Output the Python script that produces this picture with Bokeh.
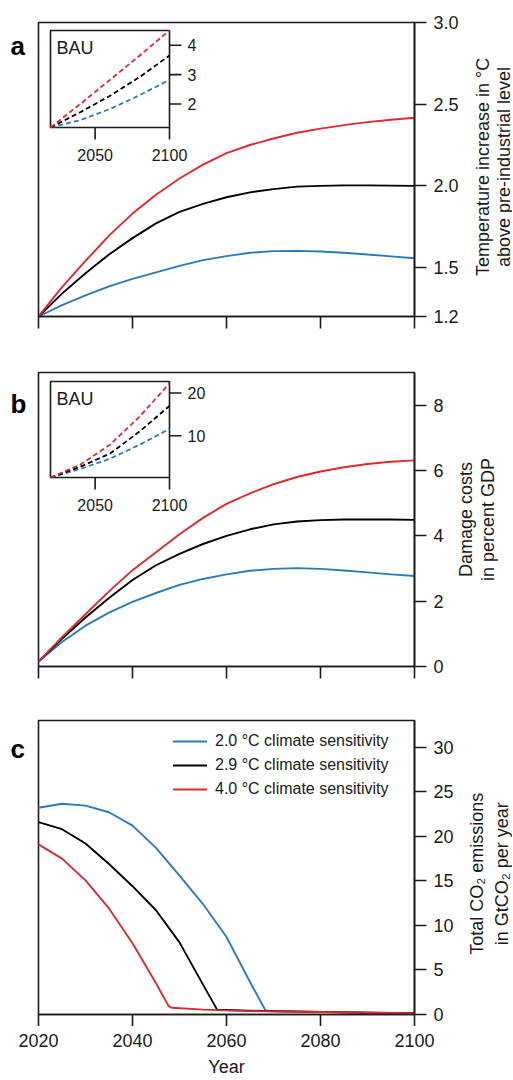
import math
from bokeh.plotting import figure
from bokeh.models import (Range1d, FixedTicker, PrintfTickFormatter, Label,
                          Legend, LegendItem, BoxAnnotation)
from bokeh.layouts import column, row
from bokeh.core.properties import value
from bokeh.embed import file_html
from bokeh.resources import INLINE

# ---------------- data ----------------
years = [2020, 2025, 2030, 2035, 2040, 2045, 2050, 2055, 2060,
         2065, 2070, 2075, 2080, 2085, 2090, 2095, 2100]
x_ticks = [2020, 2040, 2060, 2080, 2100]
x_labels = ["2020", "2040", "2060", "2080", "2100"]

# panel a: temperature increase (deg C)
temp_blue = [1.20, 1.27, 1.33, 1.385, 1.43, 1.47, 1.51, 1.545, 1.57,
             1.59, 1.60, 1.602, 1.598, 1.59, 1.58, 1.568, 1.557]
temp_black = [1.20, 1.34, 1.465, 1.58, 1.68, 1.77, 1.84, 1.89, 1.93,
              1.96, 1.98, 1.995, 2.0, 2.003, 2.003, 2.001, 2.0]
temp_red = [1.20, 1.38, 1.54, 1.695, 1.83, 1.945, 2.045, 2.13, 2.20,
            2.25, 2.29, 2.325, 2.35, 2.372, 2.39, 2.405, 2.417]
temp_ticks = [1.2, 1.5, 2.0, 2.5, 3.0]

# panel b: damage costs (% GDP)
dmg_blue = [0.15, 0.75, 1.25, 1.65, 1.98, 2.25, 2.5, 2.68, 2.82,
            2.93, 2.99, 3.01, 2.99, 2.94, 2.88, 2.82, 2.77]
dmg_black = [0.15, 0.85, 1.5, 2.1, 2.65, 3.1, 3.45, 3.75, 4.0,
             4.2, 4.35, 4.44, 4.48, 4.5, 4.5, 4.5, 4.49]
dmg_red = [0.15, 0.9, 1.6, 2.3, 2.95, 3.5, 4.05, 4.55, 4.98,
           5.3, 5.58, 5.8, 5.97, 6.1, 6.2, 6.27, 6.31]
dmg_ticks = [0, 2, 4, 6, 8]

# BAU insets
inset_years = [2020, 2040, 2060, 2080, 2100]
inset_xticks = [2050, 2100]
inset_xlabels = ["2050", "2100"]
bau_temp_blue = [1.2, 1.45, 1.83, 2.3, 2.82]
bau_temp_black = [1.2, 1.72, 2.28, 2.92, 3.65]
bau_temp_red = [1.2, 2.0, 2.82, 3.65, 4.5]
bau_temp_ticks = [2, 3, 4]
bau_dmg_blue = [0.2, 2.2, 4.6, 7.9, 11.6]
bau_dmg_black = [0.2, 2.7, 5.8, 11.0, 17.0]
bau_dmg_red = [0.2, 3.2, 7.9, 14.5, 22.3]
bau_dmg_ticks = [10, 20]

# panel c: total CO2 emissions (GtCO2 / yr)
em_years_blue = [2020, 2025, 2030, 2035, 2040, 2045, 2050, 2055, 2060,
                 2065, 2068.3, 2070, 2080, 2090, 2100]
em_blue = [23.2, 23.65, 23.45, 22.7, 21.2, 18.7, 15.6, 12.4, 8.7,
           3.65, 0.45, 0.38, 0.3, 0.2, 0.15]
em_years_black = [2020, 2025, 2030, 2035, 2040, 2045, 2050, 2055, 2058,
                  2060, 2070, 2080, 2090, 2100]
em_black = [21.6, 20.8, 19.2, 16.9, 14.4, 11.7, 8.1, 3.35, 0.55,
            0.5, 0.36, 0.3, 0.2, 0.15]
em_years_red = [2020, 2025, 2030, 2035, 2040, 2045, 2047.7, 2048.4,
                2055, 2065, 2080, 2090, 2100]
em_red = [19.1, 17.5, 15.05, 11.9, 8.0, 3.5, 0.94, 0.75,
          0.55, 0.38, 0.28, 0.2, 0.15]
em_ticks = [0, 5, 10, 15, 20, 25, 30]
legend_labels = ["2.0 °C climate sensitivity", "2.9 °C climate sensitivity",
                 "4.0 °C climate sensitivity"]

# ---------------- style ----------------
FONT = "Liberation Sans"
BLUE = "#2a7bba"
RED = "#de2a2e"
BLACK = "#000000"
AX = "#1a1a1a"
W, H = 376, 294
LW = 1.9
LEFT_W = 36          # width of the left strip holding the panel letter
TOTAL_W = 512


def style_axis(ax):
    ax.axis_line_color = AX
    ax.axis_line_width = 1.6
    ax.major_tick_line_color = AX
    ax.major_tick_line_width = 1.6
    ax.major_tick_out = 12
    ax.major_tick_in = 0
    ax.minor_tick_out = 0
    ax.minor_tick_in = 0
    ax.major_label_text_font = FONT
    ax.major_label_text_font_size = "18px"
    ax.major_label_text_color = AX
    ax.major_label_standoff = 7


def base_fig(y0, y1, yticks, top, bottom, right, fmt=None):
    p = figure(frame_width=W, frame_height=H,
               x_range=Range1d(2020, 2100), y_range=Range1d(y0, y1),
               y_axis_location="right", output_backend="svg",
               toolbar_location=None, min_border_left=2,
               min_border_right=right, min_border_top=top,
               min_border_bottom=bottom)
    p.grid.visible = False
    p.background_fill_color = "white"
    p.border_fill_color = "white"
    p.outline_line_color = AX
    p.outline_line_width = 1.6
    p.outline_line_alpha = 1.0
    style_axis(p.xaxis[0])
    style_axis(p.yaxis[0])
    p.xaxis.ticker = FixedTicker(ticks=x_ticks)
    # tick labels of the year axis are drawn only once, below panel c
    p.xaxis.major_label_text_font_size = "0px"
    p.xaxis.major_label_text_color = None
    p.xaxis.major_label_standoff = 0
    p.yaxis.ticker = FixedTicker(ticks=yticks)
    if fmt:
        p.yaxis.formatter = PrintfTickFormatter(format=fmt)
    return p


def side_fig(w, h):
    f = figure(width=w, height=h, x_range=Range1d(0, w),
               y_range=Range1d(0, h), min_border=0, toolbar_location=None,
               output_backend="svg", x_axis_type=None, y_axis_type=None)
    f.outline_line_color = None
    f.background_fill_color = "white"
    f.border_fill_color = "white"
    return f


def add_lines(p, xs_list, ys_list):
    rs = []
    for xs, ys, c in zip(xs_list, ys_list, (BLUE, BLACK, RED)):
        rs.append(p.line(xs, ys, line_color=c, line_width=LW,
                         line_join="round", line_cap="round"))
    return rs


def add_inset(p, y0, y1, yticks, blue, black, red, top_off, h_px,
              left_off=12, w_px=119):
    xa, xb = inset_years[0], inset_years[-1]
    sx = (xb - xa) / w_px
    sy = (y1 - y0) / h_px
    p.extra_x_ranges = {"ix": Range1d(xa - left_off * sx,
                                      xa + (W - left_off) * sx)}
    p.extra_y_ranges = {"iy": Range1d(y0 - (H - top_off - h_px) * sy,
                                      y1 + top_off * sy)}
    kw = dict(x_range_name="ix", y_range_name="iy")
    box = BoxAnnotation(left=xa, right=xb, bottom=y0, top=y1,
                        fill_color="white", fill_alpha=1.0,
                        line_color=AX, line_alpha=1.0, line_width=1.6,
                        level="underlay", **kw)
    p.add_layout(box)
    for ys, c in zip((blue, black, red), (BLUE, BLACK, RED)):
        p.line(inset_years, ys, line_color=c, line_width=1.8,
               line_dash="5 3", **kw)
    p.ray(x=[xb] * len(yticks), y=yticks, length=12, angle=0,
          length_units="screen", line_color=AX, line_width=1.6, **kw)
    p.text(x=[xb] * len(yticks), y=yticks, text=[str(t) for t in yticks],
           x_offset=18, text_align="left", text_baseline="middle",
           text_font=value(FONT), text_font_size="16px", text_color=AX, **kw)
    p.ray(x=inset_xticks, y=[y0] * len(inset_xticks), length=12,
          angle=-math.pi / 2, length_units="screen", line_color=AX,
          line_width=1.6, **kw)
    p.text(x=inset_xticks, y=[y0] * len(inset_xticks), text=inset_xlabels,
           y_offset=27, text_align="center", text_baseline="middle",
           text_font=value(FONT), text_font_size="16px", text_color=AX, **kw)
    p.text(x=[xa], y=[y1], text=["BAU"], x_offset=6, y_offset=7,
           text_align="left", text_baseline="top", text_font=value(FONT),
           text_font_size="18px", text_color=AX, **kw)


def assemble(main, letter, top, bottom, right, baseline_from_top,
             title_lines, title_xs):
    h = top + H + bottom
    left = side_fig(LEFT_W, h)
    left.add_layout(Label(x=10, y=h - baseline_from_top, text=letter,
                          text_font=FONT, text_font_size="26px",
                          text_font_style="bold", text_color=BLACK,
                          text_baseline="alphabetic", text_align="left"))
    rw = TOTAL_W - LEFT_W - 2 - W - right
    rf = side_fig(rw, h)
    yc = h - (top + H / 2)
    for t, x in zip(title_lines, title_xs):
        rf.add_layout(Label(x=x, y=yc, text=t, angle=math.pi / 2,
                            text_font=FONT, text_font_size="18px",
                            text_color=AX, text_align="center",
                            text_baseline="middle"))
    return row(left, main, rf, spacing=0)


# ---------------- panel a ----------------
TA, BA, RA = 22, 28, 50
pa = base_fig(1.2, 3.0, temp_ticks, TA, BA, RA, fmt="%.1f")
add_lines(pa, [years] * 3, [temp_blue, temp_black, temp_red])
add_inset(pa, 1.2, 4.5, bau_temp_ticks, bau_temp_blue, bau_temp_black,
          bau_temp_red, top_off=8, h_px=97)
row_a = assemble(pa, "a", TA, BA, RA, 27,
                 ["Temperature increase in °C", "above pre-industrial level"],
                 [18, 39])

# ---------------- panel b ----------------
TB, BB, RB = 28, 28, 42
pb = base_fig(0, 9, dmg_ticks, TB, BB, RB)
add_lines(pb, [years] * 3, [dmg_blue, dmg_black, dmg_red])
add_inset(pb, 0.2, 22.7, bau_dmg_ticks, bau_dmg_blue, bau_dmg_black,
          bau_dmg_red, top_off=9, h_px=96)
row_b = assemble(pb, "b", TB, BB, RB, 37.5,
                 ["Damage costs", "in percent GDP"], [9, 31])

# ---------------- panel c ----------------
TC, BC, RC = 26, 12, 52
pc = base_fig(0, 33, em_ticks, TC, BC, RC)
rs = add_lines(pc, [em_years_blue, em_years_black, em_years_red],
               [em_blue, em_black, em_red])
legend = Legend(items=[LegendItem(label=l, renderers=[r])
                       for l, r in zip(legend_labels, rs)],
                location=(135, H - 79), label_text_font=FONT,
                label_text_font_size="16px", label_text_color=AX,
                glyph_width=34, glyph_height=20, label_height=20,
                label_standoff=8, spacing=4, padding=0, margin=0,
                border_line_alpha=0, background_fill_alpha=0)
pc.add_layout(legend)
row_c = assemble(pc, "c", TC, BC, RC, 32.5,
                 ["Total CO₂ emissions", "in GtCO₂ per year"], [10, 35])

# ---------------- shared year axis under panel c ----------------
px = figure(frame_width=W, frame_height=1, x_range=pc.x_range,
            y_range=Range1d(0, 1), y_axis_type=None,
            output_backend="svg", toolbar_location=None,
            min_border_left=LEFT_W + 2, min_border_right=TOTAL_W - LEFT_W - 2 - W,
            min_border_top=0, min_border_bottom=0)
px.grid.visible = False
px.outline_line_color = None
px.background_fill_color = "white"
px.border_fill_color = "white"
xa_ = px.xaxis[0]
style_axis(xa_)
xa_.axis_line_color = None
xa_.major_tick_line_color = None
xa_.major_tick_out = 0
xa_.major_label_standoff = 6
xa_.ticker = FixedTicker(ticks=x_ticks)
xa_.major_label_overrides = dict(zip(x_ticks, x_labels))
xa_.axis_label = "Year"
xa_.axis_label_text_font = FONT
xa_.axis_label_text_font_size = "18px"
xa_.axis_label_text_font_style = "normal"
xa_.axis_label_text_color = AX
xa_.axis_label_standoff = 7

layout = column(row_a, row_b, row_c, px, spacing=0)
open("out.html", "w").write(file_html(layout, INLINE, title="Climate sensitivity"))
